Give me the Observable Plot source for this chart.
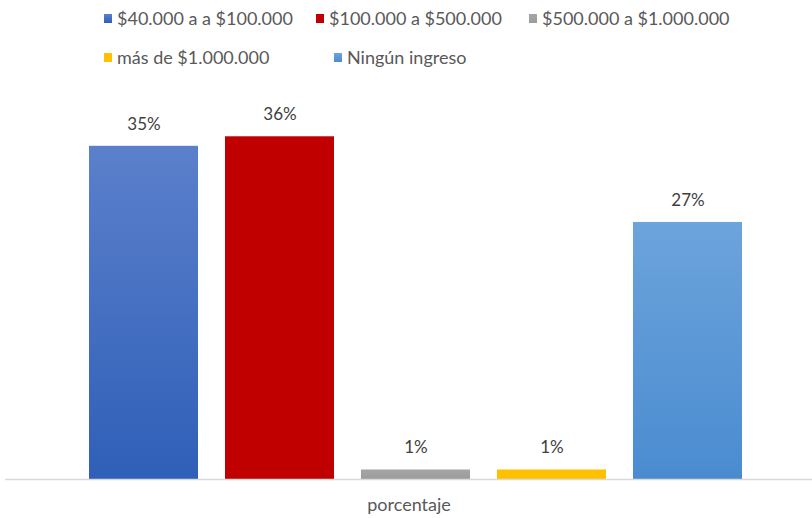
<!DOCTYPE html>
<html><head><meta charset="utf-8">
<script src="https://cdn.jsdelivr.net/npm/d3@7"></script>
<script src="https://cdn.jsdelivr.net/npm/@observablehq/plot@0.6"></script>
<style>
body{margin:0;background:#fff;font-family:Lato,"Open Sans",sans-serif;}
#wrap{width:812px;}
#legend{position:relative;height:80px;color:#595959;font-size:18px;}
.item{position:absolute;display:flex;align-items:center;white-space:nowrap;height:22px;line-height:22px;}
.sw{width:8px;height:9px;margin-right:5px;}
</style></head><body>
<div id="wrap"><div id="legend"></div><div id="chart"></div></div>
<script>
const series = ["$40.000 a a $100.000", "$100.000 a $500.000", "$500.000 a $1.000.000", "más de $1.000.000", "Ningún ingreso"];
const values = [35, 36, 1, 1, 27];
const category = "porcentaje";
const topColors = ["#5b80cb", "#c00000", "#a5a5a5", "#ffc000", "#6ca4dc"];
const bottomColors = ["#2f5fb8", "#c00000", "#9c9c9c", "#ffc000", "#4a8bd0"];
const legendPos = [[104, 7], [316, 7], [529, 7], [104, 46], [334, 46]];

const data = series.map((s, i) => ({series: s, value: values[i], group: category, grad: `url(#grad${i})`, label: values[i] + "%"}));

// legend
const legend = document.getElementById("legend");
series.forEach((s, i) => {
  const it = document.createElement("div");
  it.className = "item";
  it.style.left = legendPos[i][0] + "px";
  it.style.top = legendPos[i][1] + "px";
  const sw = document.createElement("span");
  sw.className = "sw";
  sw.style.background = topColors[i] === bottomColors[i] ? topColors[i] : `linear-gradient(${topColors[i]}, ${bottomColors[i]})`;
  const t = document.createElement("span");
  t.textContent = s;
  it.appendChild(sw); it.appendChild(t);
  legend.appendChild(it);
});

const chart = Plot.plot({
  width: 812,
  height: 438,
  marginLeft: 5,
  marginRight: 0,
  marginTop: 18.2,
  marginBottom: 39,
  style: {fontFamily: "Lato, 'Open Sans', sans-serif", fontSize: "18px", color: "#595959", background: "#fff"},
  fx: {domain: [category], padding: 0, label: null, axis: "bottom", tickSize: 0, tickPadding: 19},
  x: {domain: series, paddingInner: 0.2, paddingOuter: 0.1, insetLeft: 69.4, insetRight: 56.4, axis: null},
  y: {domain: [0, 40], axis: null},
  color: {type: "identity"},
  marks: [
    Plot.barY(data, {fx: "group", x: "series", y: "value", fill: "grad", style: "filter: drop-shadow(0px 0px 1.5px rgba(0,0,0,0.35))"}),
    Plot.ruleY([0], {stroke: "#d9d9d9", strokeWidth: 1.5}),
    Plot.text(data, {fx: "group", x: "series", y: "value", text: "label", dy: -22, fill: "#404040", fontSize: 17})
  ]
});

const ns = "http://www.w3.org/2000/svg";
const defs = document.createElementNS(ns, "defs");
series.forEach((s, i) => {
  const g = document.createElementNS(ns, "linearGradient");
  g.setAttribute("id", "grad" + i);
  g.setAttribute("x1", "0"); g.setAttribute("y1", "0"); g.setAttribute("x2", "0"); g.setAttribute("y2", "1");
  [[0, topColors[i]], [1, bottomColors[i]]].forEach(([o, c]) => {
    const st = document.createElementNS(ns, "stop");
    st.setAttribute("offset", o);
    st.setAttribute("stop-color", c);
    g.appendChild(st);
  });
  defs.appendChild(g);
});
chart.insertBefore(defs, chart.firstChild);
document.getElementById("chart").appendChild(chart);
</script>
</body></html>
